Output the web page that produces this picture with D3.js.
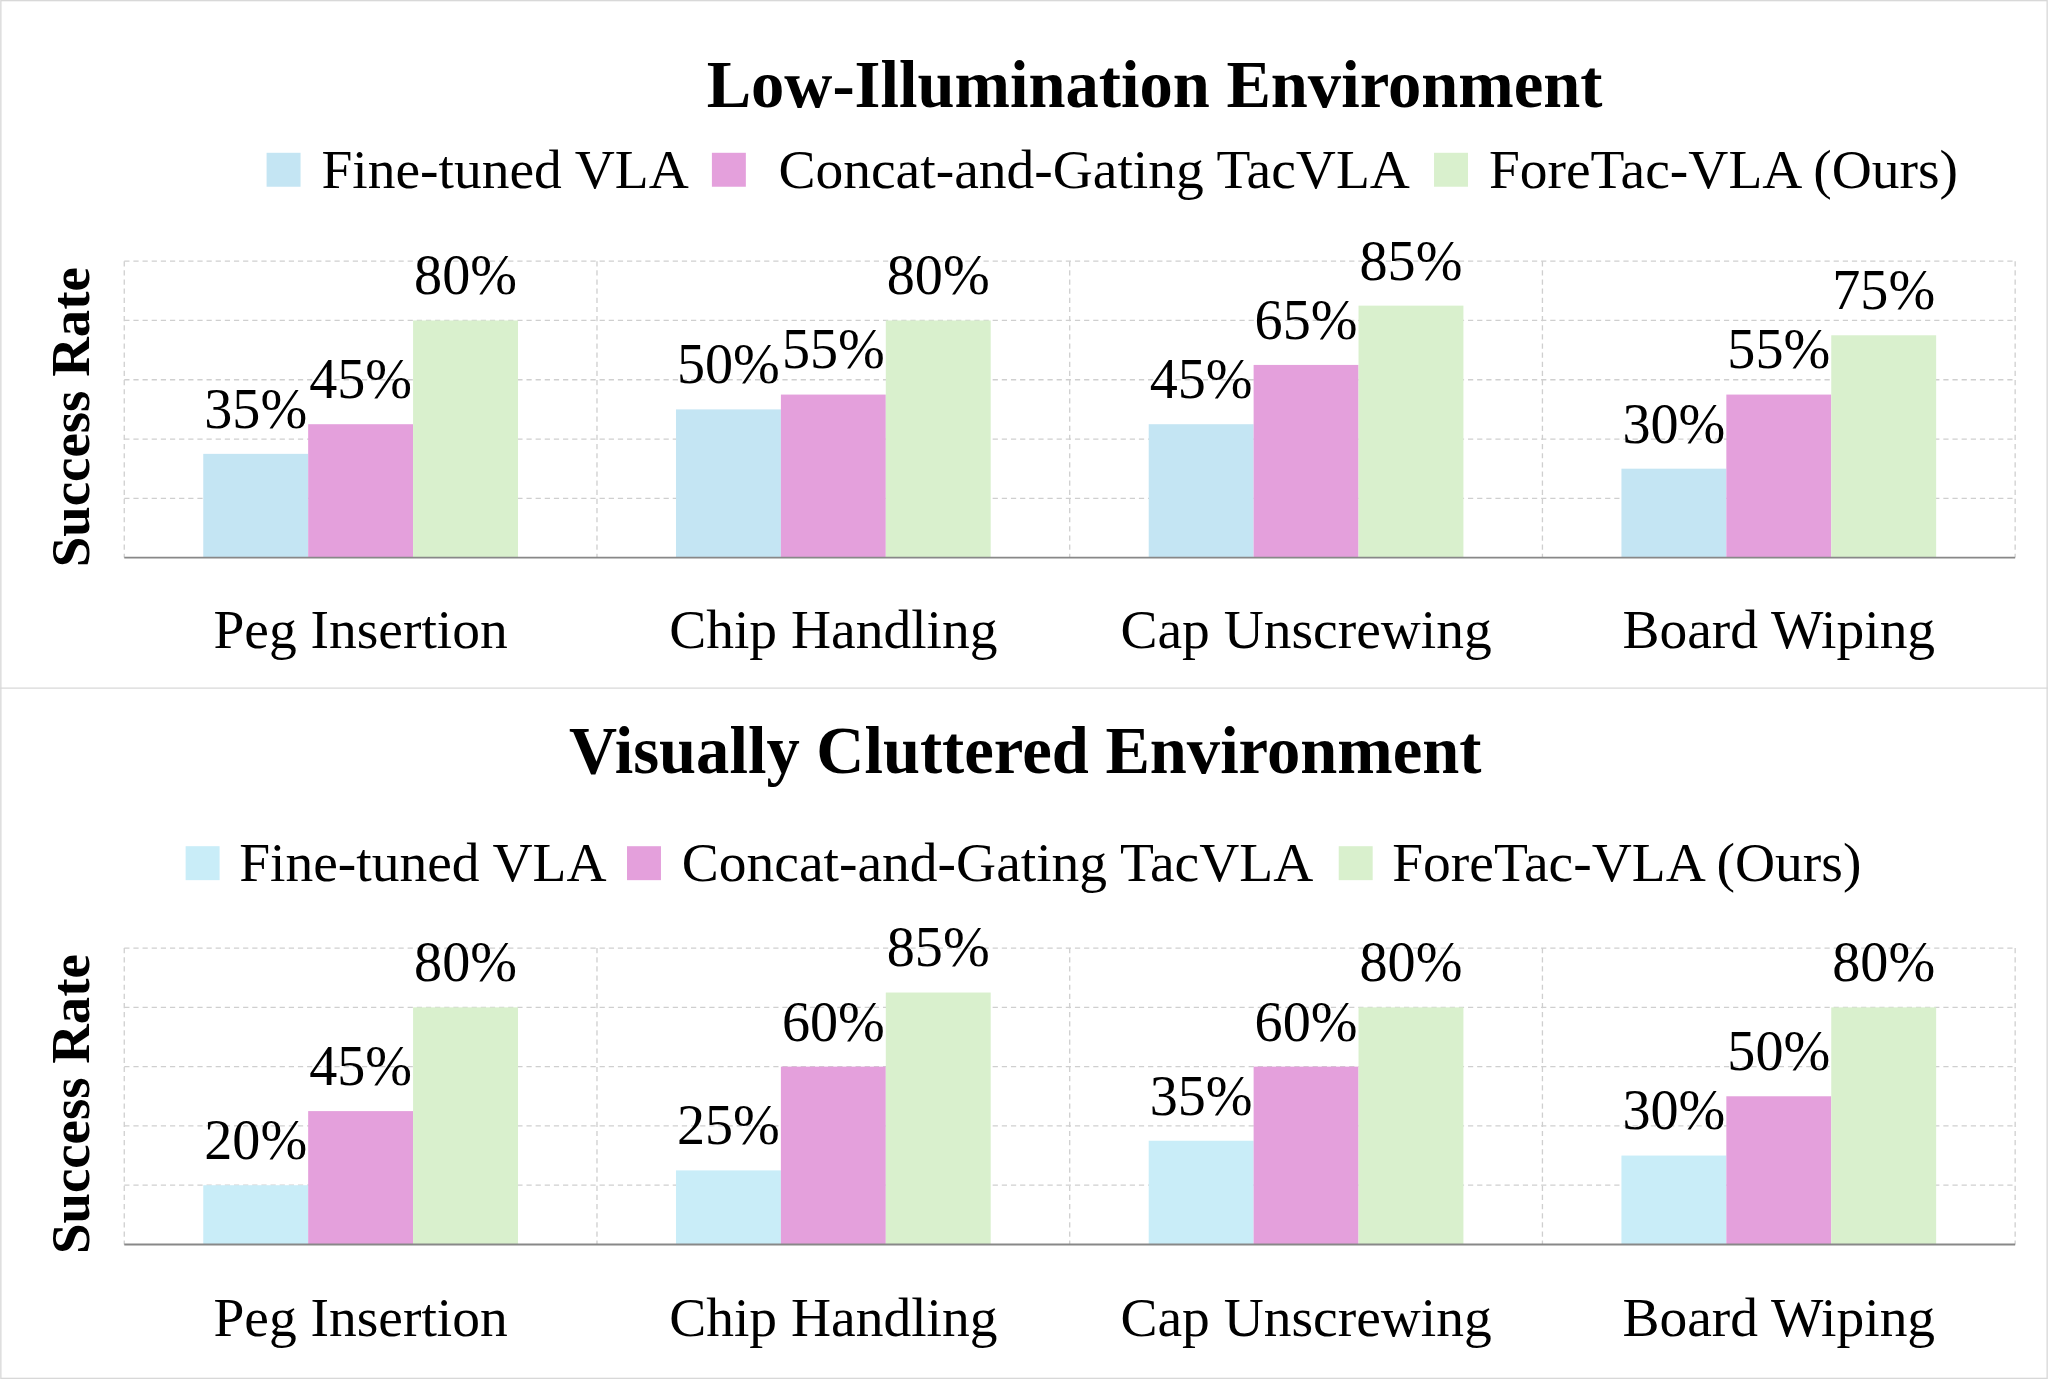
<!DOCTYPE html>
<html><head><meta charset="utf-8">
<script src="https://cdn.jsdelivr.net/npm/d3@7"></script>
<style>body{margin:0;background:#fff}</style>
</head><body>
<div id="chart"></div>
<script>
const categories = ["Peg Insertion", "Chip Handling", "Cap Unscrewing", "Board Wiping"];
const seriesNames = ["Fine-tuned VLA", "Concat-and-Gating TacVLA", "ForeTac-VLA (Ours)"];
const lowIllum = [[35, 50, 45, 30], [45, 55, 65, 55], [80, 80, 85, 75]];
const cluttered = [[20, 25, 35, 30], [45, 60, 60, 50], [80, 85, 80, 80]];
const yTicks = [0, 20, 40, 60, 80, 100];

const W = 1568, H = 1056;
const svg = d3.select("#chart").append("svg")
    .attr("width", 2048).attr("height", 1379)
    .attr("viewBox", `0 0 ${W} ${H}`)
    .style("font-family", "'Liberation Serif', 'Times New Roman', serif");

svg.append("rect").attr("x", 0.5).attr("y", 0.5).attr("width", W - 1).attr("height", H - 1)
    .attr("fill", "none").attr("stroke", "#d8d8d8");
svg.append("line").attr("x1", 0).attr("x2", W).attr("y1", 527).attr("y2", 527).attr("stroke", "#d8d8d8");

const panels = [
  {title: "Low-Illumination Environment", data: lowIllum, titleX: 884, titleY: 82,
   legendY: 130, legendSq: [204, 545, 1098], legendTx: [246, 596, 1140],
   top: 200, base: 427, catY: 496, colors: ["#c4e5f3", "#e4a0dc", "#d9f0cd"]},
  {title: "Visually Cluttered Environment", data: cluttered, titleX: 785, titleY: 592,
   legendY: 661, legendSq: [142, 480, 1025], legendTx: [183, 522, 1066],
   top: 726, base: 953, catY: 1023, colors: ["#c9edf8", "#e4a0dc", "#d9f0cd"]}
];

panels.forEach(p => {
  const g = svg.append("g");
  g.append("text").attr("x", p.titleX).attr("y", p.titleY).attr("text-anchor", "middle")
    .attr("font-size", 51).attr("font-weight", "bold").text(p.title);

  seriesNames.forEach((s, i) => {
    g.append("rect").attr("x", p.legendSq[i]).attr("y", p.legendY - 13).attr("width", 26).attr("height", 26)
      .attr("fill", p.colors[i]);
    g.append("text").attr("x", p.legendTx[i]).attr("y", p.legendY + 14).attr("font-size", 42.5).text(s);
  });

  const x = d3.scaleBand().domain(categories).range([95, 1543]);
  const xs = d3.scaleBand().domain(d3.range(3)).range([0, 241]);
  const y = d3.scaleLinear().domain([0, 100]).range([p.base, p.top]);

  g.selectAll(".hg").data(yTicks.slice(1)).join("line")
    .attr("x1", 95).attr("x2", 1543).attr("y1", d => y(d)).attr("y2", d => y(d))
    .attr("stroke", "#cfcfcf").attr("stroke-dasharray", "4,3");
  g.selectAll(".vg").data(categories.map(c => x(c)).concat([1543])).join("line")
    .attr("x1", d => d).attr("x2", d => d).attr("y1", p.top).attr("y2", p.base)
    .attr("stroke", "#cfcfcf").attr("stroke-dasharray", "4,3");

  const off = (x.bandwidth() - 241) / 2;
  p.data.forEach((vals, si) => {
    categories.forEach((c, ci) => {
      const bx = x(c) + off + xs(si);
      g.append("rect").attr("x", bx).attr("y", y(vals[ci])).attr("width", xs.bandwidth())
        .attr("height", p.base - y(vals[ci])).attr("fill", p.colors[si]);
      g.append("text").attr("x", bx + xs.bandwidth() / 2).attr("y", y(vals[ci]) - 20)
        .attr("text-anchor", "middle").attr("font-size", 43).text(vals[ci] + "%");
    });
  });

  g.append("line").attr("x1", 95).attr("x2", 1543).attr("y1", p.base).attr("y2", p.base)
    .attr("stroke", "#888").attr("stroke-width", 1.5);

  g.selectAll(".cat").data(categories).join("text")
    .attr("x", d => x(d) + x.bandwidth() / 2).attr("y", p.catY)
    .attr("text-anchor", "middle").attr("font-size", 42.5).text(d => d);

  g.append("text").attr("transform", `translate(68,${(p.top + p.base) / 2 + 6}) rotate(-90)`)
    .attr("text-anchor", "middle").attr("font-size", 42).attr("font-weight", "bold").text("Success Rate");
});
</script>
</body></html>
